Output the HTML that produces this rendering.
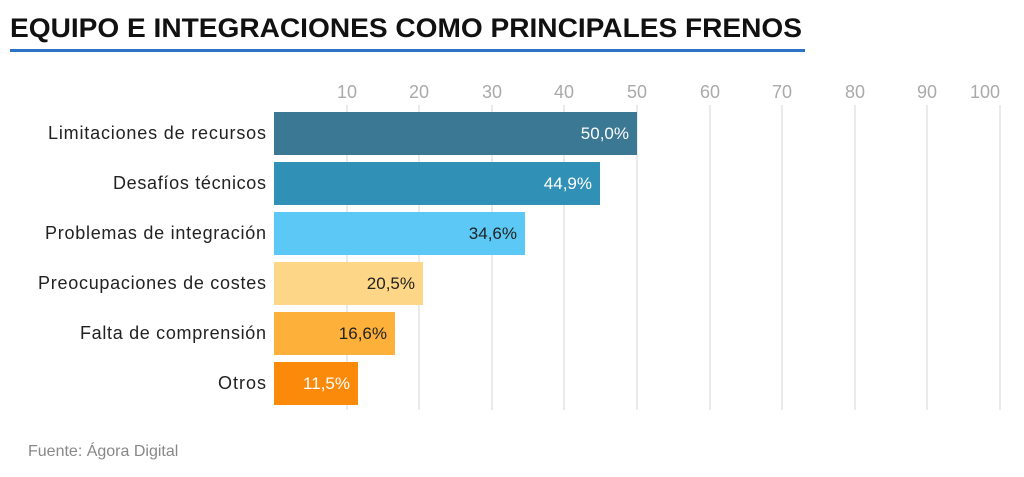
<!DOCTYPE html>
<html><head><meta charset="utf-8"><style>
body{margin:0;width:1024px;height:472px;background:#fff;overflow:hidden;font-family:"Liberation Sans",sans-serif;}
</style></head><body>
<svg width="1024" height="472" xmlns="http://www.w3.org/2000/svg" font-family="Liberation Sans, sans-serif">
<text x="10" y="37" font-size="27" font-weight="bold" fill="#111" textLength="792" lengthAdjust="spacingAndGlyphs">EQUIPO E INTEGRACIONES COMO PRINCIPALES FRENOS</text>
<rect x="10" y="49" width="795" height="3" fill="#2c73c4"/>
<g stroke="#e3e3e3" stroke-width="1.5">
<line x1="347" y1="105" x2="347" y2="410"/><line x1="419" y1="105" x2="419" y2="410"/>
<line x1="492" y1="105" x2="492" y2="410"/><line x1="564" y1="105" x2="564" y2="410"/>
<line x1="637" y1="105" x2="637" y2="410"/><line x1="710" y1="105" x2="710" y2="410"/>
<line x1="782" y1="105" x2="782" y2="410"/><line x1="855" y1="105" x2="855" y2="410"/>
<line x1="927" y1="105" x2="927" y2="410"/><line x1="1000" y1="105" x2="1000" y2="410"/>
</g>
<g font-size="18" fill="#aaa" text-anchor="middle">
<text x="347" y="98">10</text><text x="419" y="98">20</text><text x="492" y="98">30</text><text x="564" y="98">40</text><text x="637" y="98">50</text><text x="710" y="98">60</text><text x="782" y="98">70</text><text x="855" y="98">80</text><text x="927" y="98">90</text><text x="985" y="98">100</text>
</g>
<rect x="274" y="112" width="363" height="43" fill="#3a7893"/>
<rect x="274" y="162" width="326" height="43" fill="#3190b5"/>
<rect x="274" y="212" width="251" height="43" fill="#5bc8f5"/>
<rect x="274" y="262" width="149" height="43" fill="#fdd687"/>
<rect x="274" y="312" width="121" height="43" fill="#fdb13b"/>
<rect x="274" y="362" width="84" height="43" fill="#fc8a0a"/>
<g font-size="18" fill="#222" lengthAdjust="spacingAndGlyphs">
<text x="48" y="139" textLength="218">Limitaciones de recursos</text>
<text x="113" y="189" textLength="153">Desafíos técnicos</text>
<text x="45" y="239" textLength="221">Problemas de integración</text>
<text x="38" y="289" textLength="228">Preocupaciones de costes</text>
<text x="80" y="339" textLength="186">Falta de comprensión</text>
<text x="218" y="389" textLength="48">Otros</text>
</g>
<g font-size="17" fill="#222" text-anchor="end">
<text x="629" y="139" fill="#fff">50,0%</text>
<text x="592" y="189" fill="#fff">44,9%</text>
<text x="517" y="239">34,6%</text>
<text x="415" y="289">20,5%</text>
<text x="387" y="339">16,6%</text>
<text x="350" y="389" fill="#fff">11,5%</text>
</g>
<text x="28" y="456" font-size="16" fill="#888">Fuente: Ágora Digital</text>
</svg>
</body></html>
